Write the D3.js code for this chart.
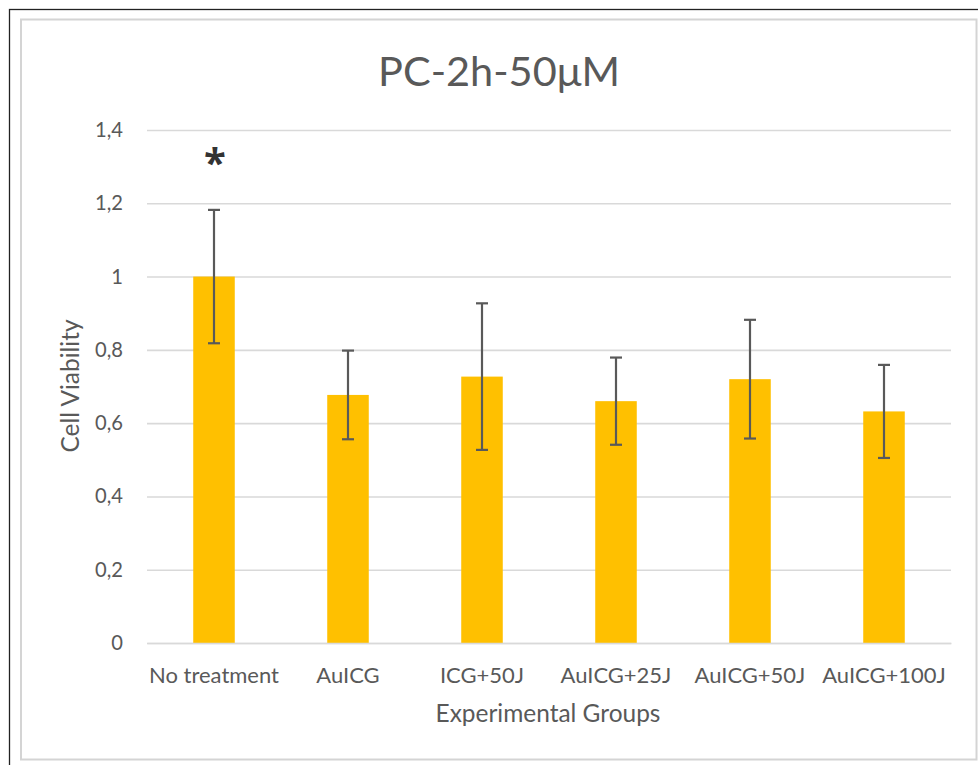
<!DOCTYPE html>
<html><head><meta charset="utf-8">
<script src="https://cdn.jsdelivr.net/npm/d3@7"></script>
<style>body{margin:0;background:#fff;} svg{display:block;}</style>
</head><body>
<svg id="c" width="978" height="765"></svg>
<script>
const categories = ["No treatment","AuICG","ICG+50J","AuICG+25J","AuICG+50J","AuICG+100J"];
const values = [1.0, 0.677, 0.727, 0.66, 0.72, 0.632];
const errors = [0.182, 0.121, 0.2, 0.119, 0.162, 0.127];
const yTicks = [0,0.2,0.4,0.6,0.8,1,1.2,1.4];
const yTickLabels = ["0","0,2","0,4","0,6","0,8","1","1,2","1,4"];
const significance = ["*","","","","",""];
const title = "PC-2h-50μM";
const xTitle = "Experimental Groups";
const yTitle = "Cell Viability";

const svg = d3.select("#c");
const font = "Lato, 'Open Sans', sans-serif";
const textCol = "#595959";

// size a font so that a sample string fits a target width
function fitSize(sample, target, base) {
  const t = svg.append("text").attr("font-family",font).attr("font-size",base).text(sample);
  const w = t.node().getComputedTextLength();
  t.remove();
  return base * target / w;
}
const tickSize = fitSize("1,4", 28, 16);
const catSize = fitSize("No treatment", 130, 18);
const titleSize = fitSize(title, 242, 40);
const axTitleSize = fitSize(xTitle, 225, 20);

// frames
svg.append("rect").attr("x",9.5).attr("y",9.5).attr("width",1000).attr("height",800)
  .attr("fill","none").attr("stroke","#222").attr("stroke-width",1.3);
svg.append("rect").attr("x",21).attr("y",19.5).attr("width",955.5).attr("height",740)
  .attr("fill","#fff").attr("stroke","#d4d4d4").attr("stroke-width",2);

const m = {l:147, r:951, t:130, b:643};
const x = d3.scaleBand().domain(categories).range([m.l, m.r]).paddingInner(0.69).paddingOuter(0.345);
const y = d3.scaleLinear().domain([0,1.4]).range([m.b, m.t]);

// gridlines
const ga = svg.append("g").attr("transform",`translate(${m.l},0)`)
  .call(d3.axisLeft(y).tickValues(yTicks).tickSize(-(m.r-m.l)).tickFormat((d,i)=>yTickLabels[i]).tickPadding(24));
ga.select(".domain").remove();
ga.selectAll(".tick line").attr("stroke","#d9d9d9").attr("stroke-width",1.6);
ga.selectAll(".tick text").attr("fill",textCol).attr("font-family",font).attr("font-size",tickSize);

// bars
svg.append("g").selectAll("rect").data(categories).join("rect")
  .attr("x",d=>x(d)).attr("width",x.bandwidth())
  .attr("y",(d,i)=>y(values[i])).attr("height",(d,i)=>y(0)-y(values[i]))
  .attr("fill","#ffc000");

// x axis
const xa = svg.append("g").attr("transform",`translate(0,${m.b})`)
  .call(d3.axisBottom(x).tickSize(0).tickPadding(0));
xa.select(".domain").attr("stroke","#d9d9d9").attr("stroke-width",1.6);
xa.selectAll(".tick text").attr("fill",textCol).attr("font-family",font).attr("font-size",catSize)
  .attr("dy",null).attr("y",40);

// error bars
const eb = svg.append("g").attr("stroke","#595959").attr("stroke-width",2.2);
categories.forEach((c,i)=>{
  const cx = x(c)+x.bandwidth()/2;
  const hi = y(values[i]+errors[i]), lo = y(values[i]-errors[i]);
  eb.append("line").attr("x1",cx).attr("x2",cx).attr("y1",hi).attr("y2",lo);
  eb.append("line").attr("x1",cx-6).attr("x2",cx+6).attr("y1",hi).attr("y2",hi);
  eb.append("line").attr("x1",cx-6).attr("x2",cx+6).attr("y1",lo).attr("y2",lo);
  if (significance[i]) {
    svg.append("text").attr("x",cx+1).attr("y",y(values[i]+errors[i])-33)
      .attr("text-anchor","middle").attr("font-family","'Open Sans', sans-serif").attr("font-weight","bold")
      .attr("font-size",40).attr("fill","#333").text(significance[i]);
  }
});

// titles
svg.append("text").attr("x",499).attr("y",86).attr("text-anchor","middle")
  .attr("font-family",font).attr("font-size",titleSize).attr("fill",textCol).text(title);
svg.append("text").attr("x",548).attr("y",722).attr("text-anchor","middle")
  .attr("font-family",font).attr("font-size",axTitleSize).attr("fill",textCol).text(xTitle);
svg.append("text").attr("transform","translate(79,386) rotate(-90)").attr("text-anchor","middle")
  .attr("font-family",font).attr("font-size",axTitleSize).attr("fill",textCol).text(yTitle);
</script>
</body></html>
